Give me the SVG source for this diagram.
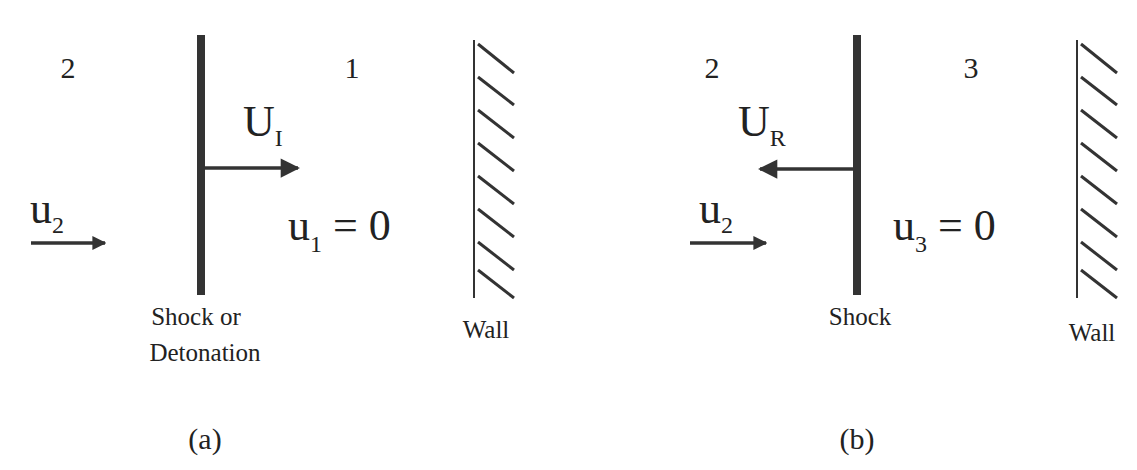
<svg xmlns="http://www.w3.org/2000/svg" width="1137" height="470" viewBox="0 0 1137 470">
<style>
text{font-family:"Liberation Serif","Times New Roman",Times,serif;fill:#222}
.lg{font-size:44px}.md{font-size:30px}.sm{font-size:25px}.sub{font-size:24px}
.shock{stroke:#333;stroke-width:8}
.ln{stroke:#333;stroke-width:3.5;fill:none}
.wl{stroke:#333;stroke-width:2}
.h{stroke:#333;stroke-width:3}
</style>
<defs>
<marker id="ah" viewBox="0 0 10 10" refX="9" refY="5" markerWidth="6.5" markerHeight="5.5" orient="auto" markerUnits="strokeWidth"><path d="M0,0L10,5L0,10z" fill="#333"/></marker>
<marker id="ahs" viewBox="0 0 10 10" refX="9" refY="5" markerWidth="4" markerHeight="5" orient="auto" markerUnits="strokeWidth"><path d="M0,0L10,5L0,10z" fill="#333"/></marker>
<g id="hatch"><line class="wl" x1="0" y1="40" x2="0" y2="298"/>
<g class="h"><line x1="4" y1="44" x2="40" y2="73"/><line x1="4" y1="77" x2="40" y2="105"/><line x1="4" y1="110" x2="40" y2="138"/><line x1="4" y1="143" x2="40" y2="171"/><line x1="4" y1="176" x2="40" y2="204"/><line x1="4" y1="209" x2="40" y2="237"/><line x1="4" y1="242" x2="40" y2="270"/><line x1="4" y1="270" x2="40" y2="298"/></g></g>
</defs>
<g id="a">
<g id="shockA"><line class="shock" x1="201" y1="35" x2="201" y2="295"/><text class="sm" x="196" y="325" text-anchor="middle">Shock or</text><text class="sm" x="205" y="361" text-anchor="middle">Detonation</text></g>
<g id="wallA"><use href="#hatch" x="474" y="0"/><text class="sm" x="486" y="338" text-anchor="middle">Wall</text></g>
<text class="md" x="68" y="78" text-anchor="middle">2</text>
<text class="md" x="352" y="78" text-anchor="middle">1</text>
<text class="lg" x="243" y="136">U<tspan class="sub" dy="10">I</tspan></text>
<text class="lg" x="30" y="223">u<tspan class="sub" dy="10">2</tspan></text>
<text class="lg" x="288" y="240">u<tspan class="sub" dy="12">1</tspan><tspan dy="-12"> = 0</tspan></text>
<text class="md" x="205" y="449" text-anchor="middle">(a)</text>
</g>
<g id="b">
<g id="shockB"><line class="shock" x1="857" y1="35" x2="857" y2="295"/><text class="sm" x="860" y="325" text-anchor="middle">Shock</text></g>
<g id="wallB"><use href="#hatch" x="1077" y="0"/><text class="sm" x="1092" y="341" text-anchor="middle">Wall</text></g>
<text class="md" x="712" y="78" text-anchor="middle">2</text>
<text class="md" x="971" y="78" text-anchor="middle">3</text>
<text class="lg" x="738" y="136">U<tspan class="sub" dy="10">R</tspan></text>
<text class="lg" x="699" y="223">u<tspan class="sub" dy="10">2</tspan></text>
<text class="lg" x="893" y="240">u<tspan class="sub" dy="12">3</tspan><tspan dy="-12"> = 0</tspan></text>
<text class="md" x="857" y="449" text-anchor="middle">(b)</text>
</g>
<g id="connectors">
<line class="ln" x1="205" y1="168" x2="298" y2="168" marker-end="url(#ah)"/>
<line class="ln" x1="31" y1="243" x2="105" y2="243" marker-end="url(#ahs)"/>
<line class="ln" x1="853" y1="169" x2="760" y2="169" marker-end="url(#ah)"/>
<line class="ln" x1="690" y1="243" x2="766" y2="243" marker-end="url(#ahs)"/>
</g>
</svg>
